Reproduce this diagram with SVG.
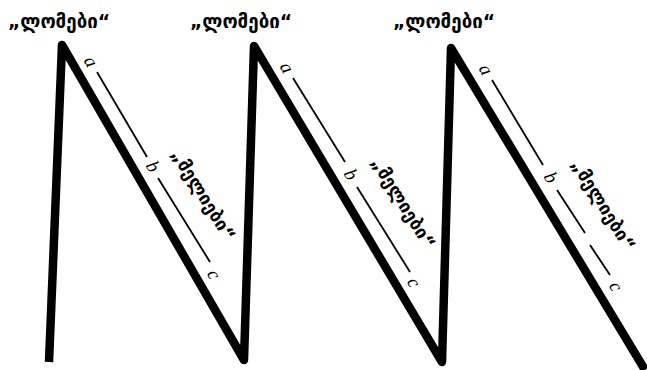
<svg xmlns="http://www.w3.org/2000/svg" width="647" height="370" viewBox="0 0 647 370">
<style>
.zig{fill:none;stroke:#000;stroke-width:8.5;stroke-linejoin:round;stroke-linecap:butt}
.thin{stroke:#000;stroke-width:1.8;fill:none}
.top{font-family:"DejaVu Sans",sans-serif;font-weight:bold;font-size:20px;fill:#000}
.rot{font-family:"DejaVu Sans",sans-serif;font-weight:bold;font-size:18px;fill:#000}
.let{font-family:"Liberation Serif",serif;font-style:italic;font-size:19px;fill:#000}
</style>
<rect width="647" height="370" fill="#fff"/>
<g id="connectors">
<path class="zig" d="M49,362 L62,45 L244,360 L254,46 L442,362 L451,48 L645,370"/>
<line class="thin" x1="97" y1="72" x2="147" y2="157"/>
<line class="thin" x1="158" y1="178" x2="210" y2="262"/>
<line class="thin" x1="293" y1="78" x2="345" y2="162"/>
<line class="thin" x1="357" y1="187" x2="410" y2="272"/>
<line class="thin" x1="492" y1="80" x2="543" y2="165"/>
<line class="thin" x1="557" y1="190" x2="585" y2="233"/>
<line class="thin" x1="590" y1="245" x2="610" y2="275"/>
</g>
<g id="label-top-1"><text class="top" x="59" y="28" text-anchor="middle" textLength="102" lengthAdjust="spacingAndGlyphs">„ლომები“</text></g>
<g id="label-top-2"><text class="top" x="241" y="28" text-anchor="middle" textLength="102" lengthAdjust="spacingAndGlyphs">„ლომები“</text></g>
<g id="label-top-3"><text class="top" x="444" y="28" text-anchor="middle" textLength="102" lengthAdjust="spacingAndGlyphs">„ლომები“</text></g>
<g id="label-slope-1"><text class="rot" transform="translate(203,195) rotate(58)" x="0" y="6" text-anchor="middle" textLength="104" lengthAdjust="spacingAndGlyphs">„მელიები“</text></g>
<g id="label-slope-2"><text class="rot" transform="translate(403,203) rotate(58)" x="0" y="6" text-anchor="middle" textLength="104" lengthAdjust="spacingAndGlyphs">„მელიები“</text></g>
<g id="label-slope-3"><text class="rot" transform="translate(603,205) rotate(58)" x="0" y="6" text-anchor="middle" textLength="104" lengthAdjust="spacingAndGlyphs">„მელიები“</text></g>
<g id="letters">
<text class="let" transform="translate(90,62) rotate(60)" text-anchor="middle" y="5">a</text>
<text class="let" transform="translate(152,167) rotate(60)" text-anchor="middle" y="5">b</text>
<text class="let" transform="translate(213,275) rotate(60)" text-anchor="middle" y="5">c</text>
<text class="let" transform="translate(286,68) rotate(60)" text-anchor="middle" y="5">a</text>
<text class="let" transform="translate(350,175) rotate(60)" text-anchor="middle" y="5">b</text>
<text class="let" transform="translate(413,283) rotate(60)" text-anchor="middle" y="5">c</text>
<text class="let" transform="translate(485,70) rotate(60)" text-anchor="middle" y="5">a</text>
<text class="let" transform="translate(550,178) rotate(60)" text-anchor="middle" y="5">b</text>
<text class="let" transform="translate(615,287) rotate(60)" text-anchor="middle" y="5">c</text>
</g>
</svg>
